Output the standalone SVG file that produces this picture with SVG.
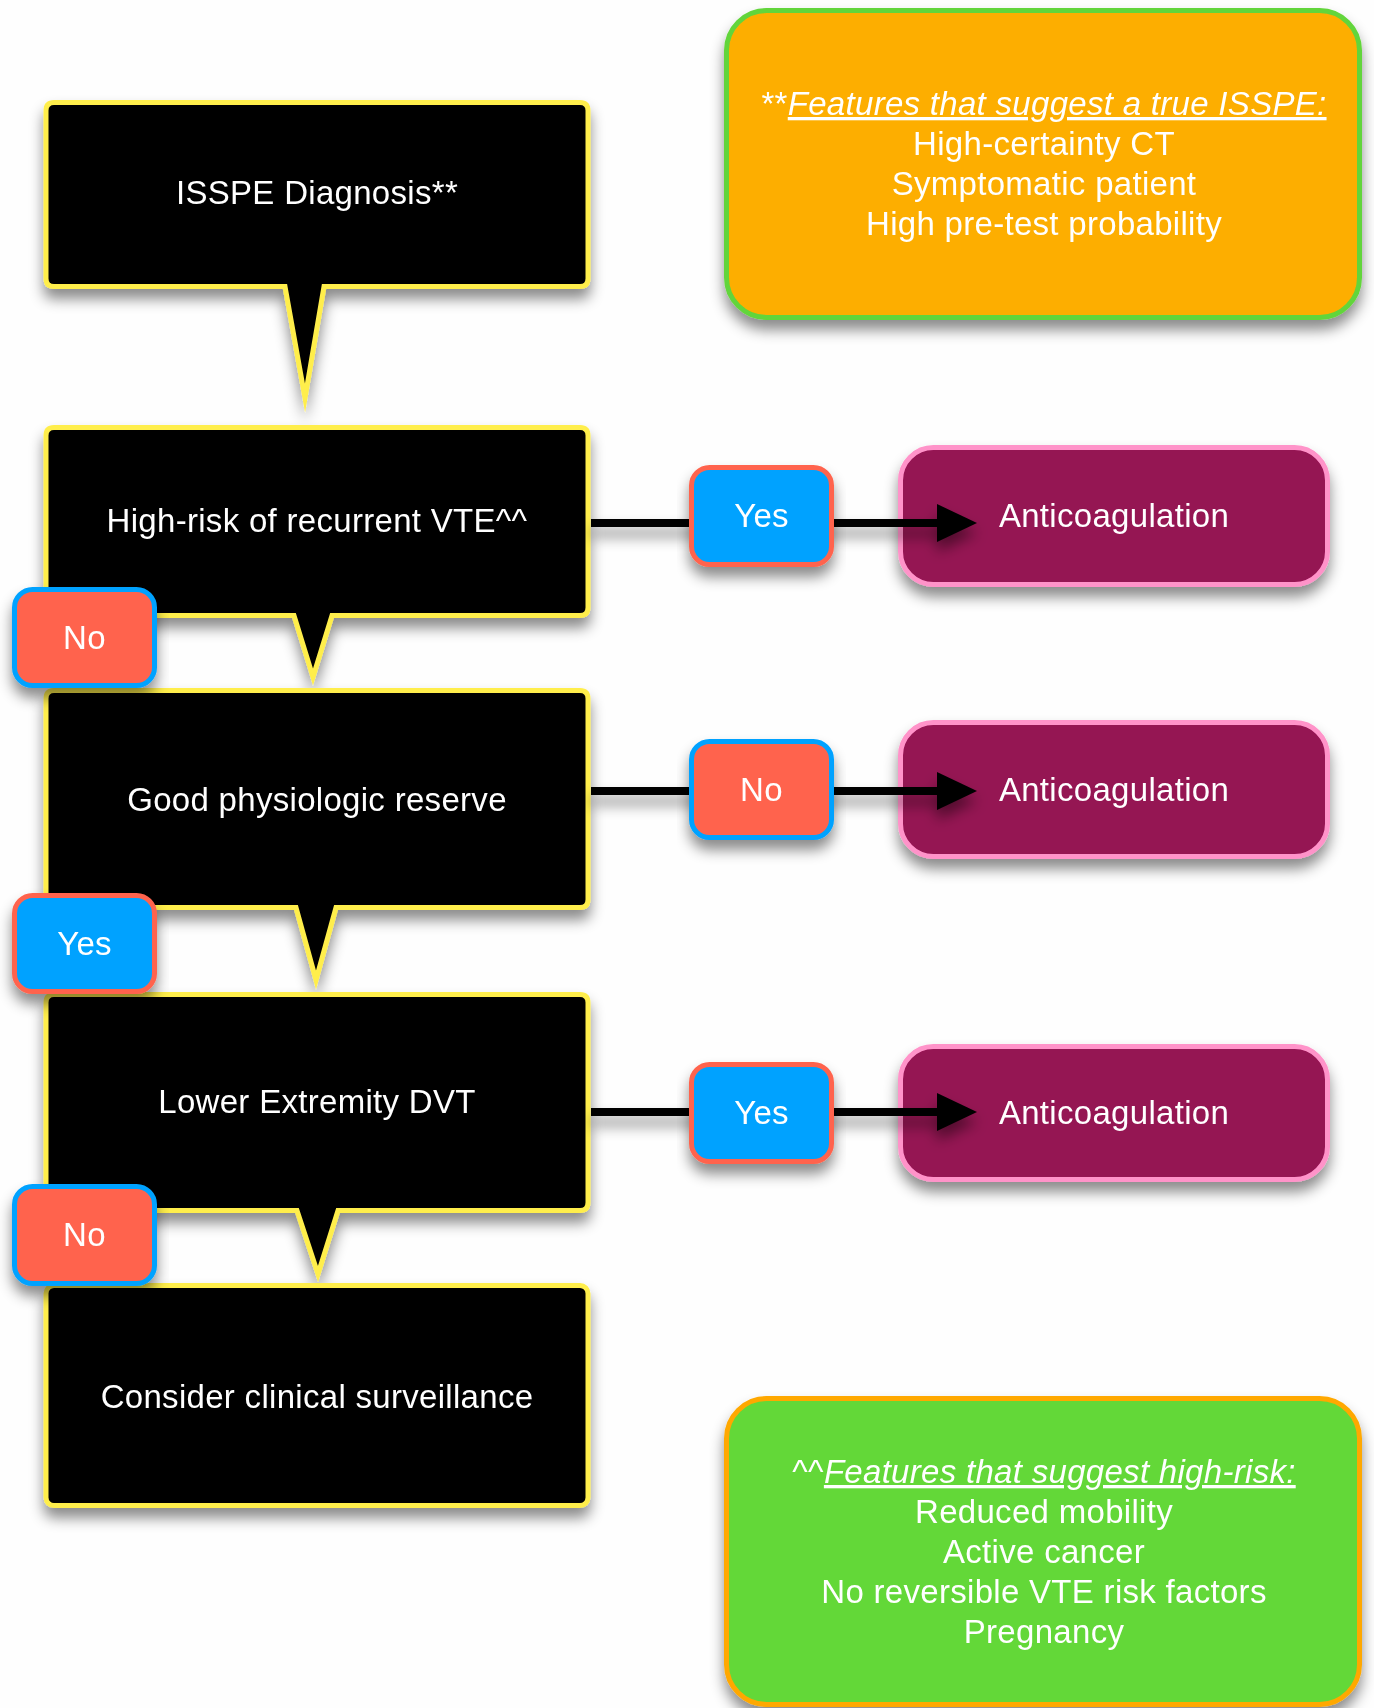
<svg xmlns="http://www.w3.org/2000/svg" width="1374" height="1708" viewBox="0 0 1374 1708">
<defs>
<style>
.t{font-family:"Liberation Sans",Arial,Helvetica,sans-serif;font-size:33px;fill:#fff;text-anchor:middle;letter-spacing:0.3px}
.q{fill:#000;stroke:#FFEE4C;stroke-width:5;stroke-linejoin:miter;stroke-miterlimit:10}
.no{fill:#FF644E;stroke:#00A2FF;stroke-width:5}
.yes{fill:#00A2FF;stroke:#FF644E;stroke-width:5}
.ac{fill:#951252;stroke:#FF93C9;stroke-width:5}
.ln{stroke:#000;stroke-width:8;fill:none}
.u{font-style:italic;text-decoration:underline}
</style>
<filter id="sh" x="-10%" y="-10%" width="120%" height="150%">
<feDropShadow dx="0" dy="10" stdDeviation="7" flood-color="#000" flood-opacity="0.45"/>
</filter>
<marker id="arr" viewBox="0 0 40 38" refX="23" refY="19" markerWidth="40" markerHeight="38" markerUnits="userSpaceOnUse" orient="auto">
<path d="M0,0 L40,19 L0,38 Z" fill="#000"/>
</marker>
</defs>
<rect width="1374" height="1708" fill="#fefefe"/>

<g id="note-isspe" filter="url(#sh)">
<rect x="726.5" y="10.5" width="633" height="307" rx="40" fill="#FDAE00" stroke="#62D53A" stroke-width="5"/>
<text class="t" x="1044" y="115">**<tspan class="u">Features that suggest a true ISSPE:</tspan></text>
<text class="t" x="1044" y="155">High-certainty CT</text>
<text class="t" x="1044" y="195">Symptomatic patient</text>
<text class="t" x="1044" y="235">High pre-test probability</text>
</g>

<g id="node-isspe" filter="url(#sh)">
<path class="q" d="M54,102.5 H580 Q588,102.5 588,110.5 V278.5 Q588,286.5 580,286.5 H324 L305,398 L285,286.5 H54 Q46,286.5 46,278.5 V110.5 Q46,102.5 54,102.5 Z"/>
<text class="t" x="317" y="204">ISSPE Diagnosis**</text>
</g>

<g id="node-highrisk" filter="url(#sh)">
<path class="q" d="M54,427.5 H580 Q588,427.5 588,435.5 V607.5 Q588,615.5 580,615.5 H332 L313,677 L294,615.5 H54 Q46,615.5 46,607.5 V435.5 Q46,427.5 54,427.5 Z"/>
<text class="t" x="317" y="532">High-risk of recurrent VTE^^</text>
</g>

<g id="node-reserve" filter="url(#sh)">
<path class="q" d="M54,690.5 H580 Q588,690.5 588,698.5 V899.5 Q588,907.5 580,907.5 H336 L316,980 L296,907.5 H54 Q46,907.5 46,899.5 V698.5 Q46,690.5 54,690.5 Z"/>
<text class="t" x="317" y="811">Good physiologic reserve</text>
</g>

<g id="node-dvt" filter="url(#sh)">
<path class="q" d="M54,994.5 H580 Q588,994.5 588,1002.5 V1202.5 Q588,1210.5 580,1210.5 H338 L318,1274 L297,1210.5 H54 Q46,1210.5 46,1202.5 V1002.5 Q46,994.5 54,994.5 Z"/>
<text class="t" x="317" y="1113">Lower Extremity DVT</text>
</g>

<g id="node-surveillance" filter="url(#sh)">
<rect class="q" x="46" y="1285.5" width="542" height="220" rx="8"/>
<text class="t" x="317" y="1408">Consider clinical surveillance</text>
</g>

<g id="node-anticoag-1" filter="url(#sh)">
<rect class="ac" x="900.5" y="447.5" width="427" height="137" rx="33"/>
<text class="t" x="1114" y="527">Anticoagulation</text>
</g>
<g id="node-anticoag-2" filter="url(#sh)">
<rect class="ac" x="900.5" y="722.5" width="427" height="134" rx="33"/>
<text class="t" x="1114" y="801">Anticoagulation</text>
</g>
<g id="node-anticoag-3" filter="url(#sh)">
<rect class="ac" x="900.5" y="1046.5" width="427" height="133" rx="33"/>
<text class="t" x="1114" y="1124">Anticoagulation</text>
</g>

<g id="connectors" filter="url(#sh)">
<line class="ln" x1="591" y1="523" x2="960" y2="523" marker-end="url(#arr)"/>
<line class="ln" x1="591" y1="791" x2="960" y2="791" marker-end="url(#arr)"/>
<line class="ln" x1="591" y1="1112" x2="960" y2="1112" marker-end="url(#arr)"/>
</g>

<g id="label-yes-1" filter="url(#sh)">
<rect class="yes" x="691.5" y="467.5" width="140" height="97" rx="18"/>
<text class="t" x="761.5" y="527">Yes</text>
</g>
<g id="label-no-2" filter="url(#sh)">
<rect class="no" x="691.5" y="741.5" width="140" height="96" rx="18"/>
<text class="t" x="761.5" y="801">No</text>
</g>
<g id="label-yes-3" filter="url(#sh)">
<rect class="yes" x="691.5" y="1064.5" width="140" height="97" rx="18"/>
<text class="t" x="761.5" y="1124">Yes</text>
</g>

<g id="label-no-left-1" filter="url(#sh)">
<rect class="no" x="14.5" y="589.5" width="140" height="96" rx="18"/>
<text class="t" x="84.5" y="649">No</text>
</g>
<g id="label-yes-left-2" filter="url(#sh)">
<rect class="yes" x="14.5" y="895.5" width="140" height="96" rx="18"/>
<text class="t" x="84.5" y="955">Yes</text>
</g>
<g id="label-no-left-3" filter="url(#sh)">
<rect class="no" x="14.5" y="1186.5" width="140" height="97" rx="18"/>
<text class="t" x="84.5" y="1246">No</text>
</g>

<g id="note-highrisk" filter="url(#sh)">
<rect x="726.5" y="1398.5" width="633" height="306" rx="40" fill="#63D838" stroke="#FFA800" stroke-width="5"/>
<text class="t" x="1044" y="1483">^^<tspan class="u">Features that suggest high-risk:</tspan></text>
<text class="t" x="1044" y="1523">Reduced mobility</text>
<text class="t" x="1044" y="1563">Active cancer</text>
<text class="t" x="1044" y="1603">No reversible VTE risk factors</text>
<text class="t" x="1044" y="1643">Pregnancy</text>
</g>
</svg>
